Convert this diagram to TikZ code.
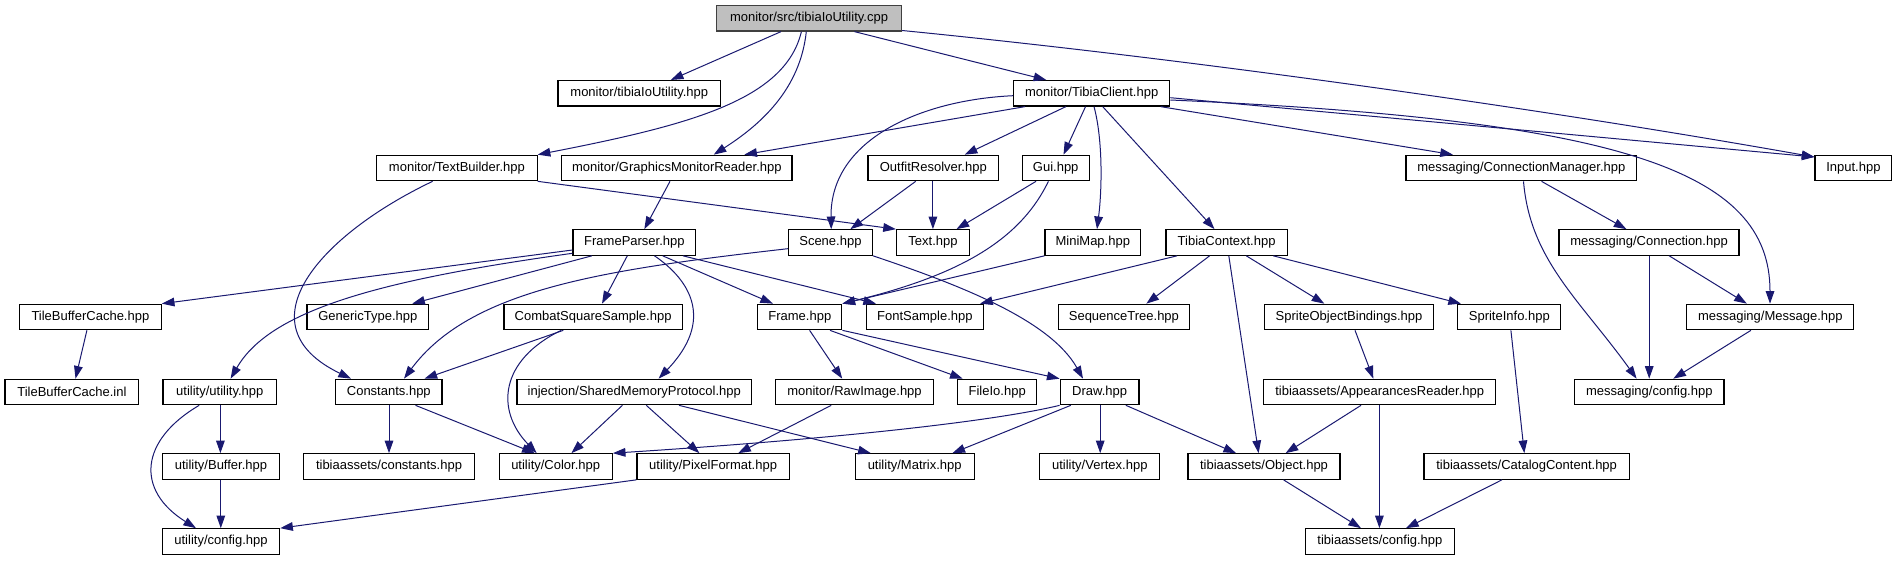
\documentclass[tikz,border=0pt]{standalone}
\usepackage{fontspec}
\setmainfont{Liberation Sans}
\usetikzlibrary{arrows.meta}
\definecolor{edgeblue}{HTML}{191970}
\definecolor{rootgray}{HTML}{BFBFBF}
\tikzset{
  box/.style={draw=black, line width=0.9pt, rectangle, inner sep=0pt,
    minimum height=19.1pt, font=\fontsize{9.75pt}{11pt}\selectfont, text=black},
  bw/.style={minimum width=#1*0.75pt},
  rootbox/.style={box, fill=rootgray, draw=black!75},
  edge/.style={draw=edgeblue, line width=0.75pt,
    -{Triangle[length=9.5pt,width=6.5pt]}},
}
\begin{document}
\begin{tikzpicture}[x=0.75pt,y=-0.75pt]
\useasboundingbox (0,0) rectangle (1897,560);
% row 0
\node[rootbox, bw=185] (root) at (809,18.3) {monitor/src/tibiaIoUtility.cpp};
% row 1
\node[box, bw=162.6] (tiu) at (639.3,93.3) {monitor/tibiaIoUtility.hpp};
\node[box, bw=156] (tc) at (1091.7,93.3) {monitor/TibiaClient.hpp};
% row 2
\node[box, bw=160.4] (tb) at (456.9,168) {monitor/TextBuilder.hpp};
\node[box, bw=230.4] (gmr) at (676.8,168) {monitor/GraphicsMonitorReader.hpp};
\node[box, bw=130.6] (outfit) at (933.3,168) {OutfitResolver.hpp};
\node[box, bw=67] (gui) at (1055.7,168) {Gui.hpp};
\node[box, bw=230.6] (cm) at (1521.3,168) {messaging/ConnectionManager.hpp};
\node[box, bw=76.7] (input) at (1853.4,168) {Input.hpp};
% row 3
\node[box, bw=122.7] (fp) at (634.4,242.5) {FrameParser.hpp};
\node[box, bw=84] (scene) at (830.4,242.5) {Scene.hpp};
\node[box, bw=73] (text) at (933,242.5) {Text.hpp};
\node[box, bw=95.6] (minimap) at (1092.8,242.5) {MiniMap.hpp};
\node[box, bw=121.3] (tctx) at (1226.6,242.5) {TibiaContext.hpp};
\node[box, bw=180] (conn) at (1649,242.5) {messaging/Connection.hpp};
% row 4
\node[box, bw=141.6] (tbc) at (90.4,317) {TileBufferCache.hpp};
\node[box, bw=121.6] (gt) at (367.8,317) {GenericType.hpp};
\node[box, bw=178.2] (css) at (593.1,317) {CombatSquareSample.hpp};
\node[box, bw=84] (frame) at (799.8,317) {Frame.hpp};
\node[box, bw=117.2] (fs) at (924.9,317) {FontSample.hpp};
\node[box, bw=130.6] (seq) at (1123.9,317) {SequenceTree.hpp};
\node[box, bw=169.4] (sob) at (1349,317) {SpriteObjectBindings.hpp};
\node[box, bw=102.9] (si) at (1509.3,317) {SpriteInfo.hpp};
\node[box, bw=166.9] (msg) at (1770.3,317) {messaging/Message.hpp};
% row 5
\node[box, bw=133.9] (tbi) at (71.9,392) {TileBufferCache.inl};
\node[box, bw=113.8] (uu) at (219.8,392) {utility/utility.hpp};
\node[box, bw=106.5] (const) at (388.8,392) {Constants.hpp};
\node[box, bw=234.6] (smp) at (634.3,392) {injection/SharedMemoryProtocol.hpp};
\node[box, bw=157.6] (raw) at (854.5,392) {monitor/RawImage.hpp};
\node[box, bw=78.7] (fileio) at (997.2,392) {FileIo.hpp};
\node[box, bw=78.8] (draw) at (1099.6,392) {Draw.hpp};
\node[box, bw=232.3] (ar) at (1379.7,392) {tibiaassets/AppearancesReader.hpp};
\node[box, bw=149.4] (mcfg) at (1649.3,392) {messaging/config.hpp};
% row 6
\node[box, bw=117.2] (buf) at (221,466.5) {utility/Buffer.hpp};
\node[box, bw=170.6] (tconst) at (389,466.5) {tibiaassets/constants.hpp};
\node[box, bw=113] (color) at (555.7,466.5) {utility/Color.hpp};
\node[box, bw=152.2] (pf) at (713.1,466.5) {utility/PixelFormat.hpp};
\node[box, bw=118.8] (matrix) at (914.7,466.5) {utility/Matrix.hpp};
\node[box, bw=120] (vertex) at (1099.8,466.5) {utility/Vertex.hpp};
\node[box, bw=152] (obj) at (1264,466.5) {tibiaassets/Object.hpp};
\node[box, bw=205.2] (cat) at (1526.6,466.5) {tibiaassets/CatalogContent.hpp};
% row 7
\node[box, bw=117.2] (ucfg) at (221,541.5) {utility/config.hpp};
\node[box, bw=149.4] (tcfg) at (1379.9,541.5) {tibiaassets/config.hpp};

% ---- edges ----
\draw[edge] (root.south -| 781,0) -- (tiu.north -| 670.8,0);
\draw[edge] (root.south -| 801.4,0) .. controls (785,100) and (690,125) .. (tb.north east);
\draw[edge] (root.south -| 806.3,0) .. controls (800,90) and (760,125) .. (gmr.north -| 713.7,0);
\draw[edge] (root.south -| 854.5,0) -- (tc.north -| 1046.3,0);
\draw[edge] (root.east |- 0,30.5) .. controls (1200,60) and (1550,110) .. (input.west |- 0,157);

\draw[edge] (tc.west |- 0,95.7) .. controls (920,100) and (830,140) .. (scene.north -| 831.2,0);
\draw[edge] (tc.south -| 1025,0) -- (gmr.north -| 744.3,0);
\draw[edge] (tc.south -| 1065.9,0) -- (outfit.north -| 964.7,0);
\draw[edge] (tc.south -| 1085.5,0) -- (gui.north -| 1063.5,0);
\draw[edge] (tc.south -| 1094,0) .. controls (1103,140) and (1102,190) .. (minimap.north -| 1097,0);
\draw[edge] (tc.south -| 1102.7,0) -- (tctx.north -| 1214.5,0);
\draw[edge] (tc.south -| 1160.6,0) -- (cm.north -| 1452.9,0);
\draw[edge] (tc.east |- 0,97.7) -- (input.west |- 0,157);
\draw[edge] (tc.east |- 0,100) .. controls (1620,120) and (1770,170) .. (msg.north -| 1770,0);

\draw[edge] (tb.south east) -- (text.north west);
\draw[edge] (tb.south -| 432.6,0) .. controls (320,235) and (240,325) .. (const.north -| 351,0);
\draw[edge] (gmr.south -| 670,0) -- (fp.north -| 644.3,0);
\draw[edge] (outfit.south -| 915.7,0) -- (scene.north -| 850.4,0);
\draw[edge] (outfit.south -| 932.9,0) -- (text.north -| 932.9,0);
\draw[edge] (gui.south -| 1036,0) -- (text.north -| 956.5,0);
\draw[edge] (gui.south -| 1048.4,0) .. controls (1020,240) and (960,275) .. (frame.north east);
\draw[edge] (minimap.south west) -- (frame.north east);
\draw[edge] (cm.south -| 1541.5,0) -- (conn.north -| 1626.4,0);
\draw[edge] (cm.south -| 1523.5,0) .. controls (1530,260) and (1580,300) .. (mcfg.north -| 1636.6,0);

\draw[edge] (fp.west |- 0,250) -- (tbc.north east);
\draw[edge] (fp.west |- 0,253.3) .. controls (380,280) and (270,310) .. (uu.north -| 230.6,0);
\draw[edge] (fp.south -| 591.8,0) -- (gt.north -| 412.2,0);
\draw[edge] (fp.south -| 627.3,0) -- (css.north -| 602,0);
\draw[edge] (fp.south -| 654.5,0) .. controls (690,280) and (715,320) .. (smp.north -| 658.6,0);
\draw[edge] (fp.south -| 662.7,0) -- (frame.north -| 773,0);
\draw[edge] (fp.south -| 683,0) -- (fs.north -| 876,0);
\draw[edge] (scene.west |- 0,248.7) .. controls (600,270) and (470,290) .. (const.north -| 404,0);
\draw[edge] (scene.south east) .. controls (960,285) and (1050,320) .. (draw.north -| 1083,0);
\draw[edge] (tctx.south -| 1177,0) -- (fs.north -| 980,0);
\draw[edge] (tctx.south -| 1209.6,0) -- (seq.north -| 1146.3,0);
\draw[edge] (tctx.south -| 1228.8,0) -- (obj.north -| 1258.6,0);
\draw[edge] (tctx.south -| 1246.3,0) -- (sob.north -| 1324.3,0);
\draw[edge] (tctx.south -| 1273.3,0) -- (si.north -| 1461,0);
\draw[edge] (conn.south -| 1649.2,0) -- (mcfg.north -| 1649.2,0);
\draw[edge] (conn.south -| 1669.2,0) -- (msg.north -| 1746.8,0);
\draw[edge] (msg.south -| 1750.9,0) -- (mcfg.north -| 1673.3,0);

\draw[edge] (tbc.south -| 86.9,0) -- (tbi.north -| 75.5,0);
\draw[edge] (css.south -| 563.3,0) -- (const.north -| 424.5,0);
\draw[edge] (css.south -| 561.2,0) .. controls (500,360) and (495,410) .. (color.north -| 536.7,0);
\draw[edge] (frame.south -| 809.6,0) -- (raw.north -| 842.2,0);
\draw[edge] (frame.south -| 830,0) -- (fileio.north -| 962.7,0);
\draw[edge] (frame.south east) -- (draw.north west);
\draw[edge] (sob.south -| 1355,0) -- (ar.north -| 1373.3,0);
\draw[edge] (si.south -| 1510.9,0) -- (cat.north -| 1524.3,0);

\draw[edge] (uu.south -| 220.4,0) -- (buf.north -| 220.4,0);
\draw[edge] (uu.south -| 199.2,0) .. controls (140,440) and (135,490) .. (ucfg.north -| 196,0);
\draw[edge] (const.south -| 389,0) -- (tconst.north -| 389,0);
\draw[edge] (const.south -| 415.5,0) -- (color.north -| 534.7,0);
\draw[edge] (smp.south -| 622.4,0) -- (color.north -| 571.4,0);
\draw[edge] (smp.south -| 646.3,0) -- (pf.north -| 699.4,0);
\draw[edge] (smp.south -| 679,0) -- (matrix.north -| 870.8,0);
\draw[edge] (raw.south -| 831.2,0) -- (pf.north -| 738.2,0);
\draw[edge] (draw.south west) .. controls (1000,420) and (850,438) .. (color.north east);
\draw[edge] (draw.south -| 1070.8,0) -- (matrix.north -| 952.4,0);
\draw[edge] (draw.south -| 1100.2,0) -- (vertex.north -| 1100.2,0);
\draw[edge] (draw.south -| 1125.9,0) -- (obj.north -| 1236.1,0);
\draw[edge] (ar.south -| 1361,0) -- (obj.north -| 1285.6,0);
\draw[edge] (ar.south -| 1379.4,0) -- (tcfg.north -| 1379.4,0);
\draw[edge] (cat.south -| 1501.9,0) -- (tcfg.north -| 1406,0);
\draw[edge] (obj.south -| 1283.5,0) -- (tcfg.north -| 1361,0);
\draw[edge] (buf.south -| 220.8,0) -- (ucfg.north -| 220.8,0);
\draw[edge] (pf.south west) -- (ucfg.north east);
\end{tikzpicture}
\end{document}
